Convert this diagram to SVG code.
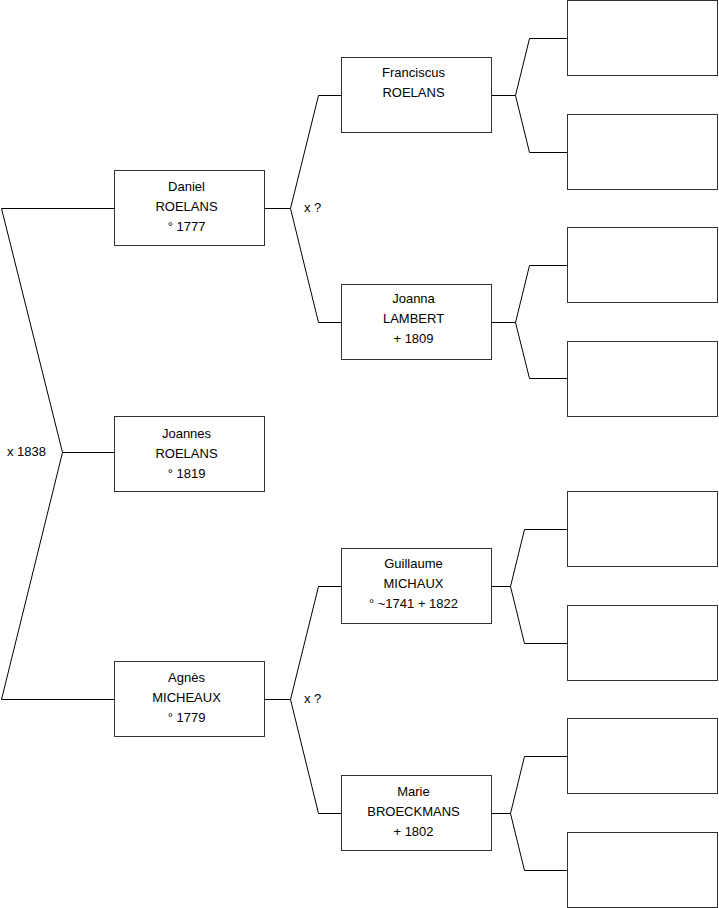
<svg xmlns="http://www.w3.org/2000/svg" width="719" height="908" viewBox="0 0 719 908">
<style>
.box{fill:#fff;stroke:#333;stroke-width:1}
.ln{fill:none;stroke:#000;stroke-width:1}
text{font-family:"Liberation Sans",Arial,sans-serif;font-size:13px;fill:#000}
.c{text-anchor:middle}
</style>
<rect width="719" height="908" fill="#fff"/>
<g id="connectors">
<polyline class="ln" points="114,208.5 1.5,208.5 62.5,452.5 1.5,699.5 114,699.5"/>
<line class="ln" x1="62.5" y1="452.5" x2="114" y2="452.5"/>
<polyline class="ln" points="341,95.5 318.5,95.5 290.5,208.5 318.5,322.5 341,322.5"/>
<line class="ln" x1="265" y1="208.5" x2="290.5" y2="208.5"/>
<polyline class="ln" points="341,586.5 318.5,586.5 290.5,699.5 318.5,813.5 341,813.5"/>
<line class="ln" x1="265" y1="699.5" x2="290.5" y2="699.5"/>
<polyline class="ln" points="567,38.5 529.5,38.5 515.5,95.5 529.5,152.5 567,152.5"/>
<line class="ln" x1="492" y1="95.5" x2="515.5" y2="95.5"/>
<polyline class="ln" points="567,265.5 529.5,265.5 515.5,322.5 529.5,378.5 567,378.5"/>
<line class="ln" x1="492" y1="322.5" x2="515.5" y2="322.5"/>
<polyline class="ln" points="567,529.5 524.5,529.5 510.5,586.5 524.5,643.5 567,643.5"/>
<line class="ln" x1="492" y1="586.5" x2="510.5" y2="586.5"/>
<polyline class="ln" points="567,756.5 524.5,756.5 510.5,813.5 524.5,870.5 567,870.5"/>
<line class="ln" x1="492" y1="813.5" x2="510.5" y2="813.5"/>
<text x="7" y="456">x 1838</text>
<text x="304" y="212">x ?</text>
<text x="304" y="703">x ?</text>
</g>
<g id="daniel"><rect class="box" x="114.5" y="170.5" width="150" height="75"/>
<text class="c" x="186.5" y="190.5">Daniel</text><text class="c" x="186.5" y="210.5">ROELANS</text><text class="c" x="186.5" y="230.5">° 1777</text></g>
<g id="joannes"><rect class="box" x="114.5" y="416.5" width="150" height="75"/>
<text class="c" x="186.5" y="438">Joannes</text><text class="c" x="186.5" y="458">ROELANS</text><text class="c" x="186.5" y="478">° 1819</text></g>
<g id="agnes"><rect class="box" x="114.5" y="661.5" width="150" height="75"/>
<text class="c" x="186.5" y="682">Agnès</text><text class="c" x="186.5" y="702">MICHEAUX</text><text class="c" x="186.5" y="722">° 1779</text></g>
<g id="franciscus"><rect class="box" x="341.5" y="57.5" width="150" height="75"/>
<text class="c" x="413.5" y="77">Franciscus</text><text class="c" x="413.5" y="97">ROELANS</text></g>
<g id="joanna"><rect class="box" x="341.5" y="284.5" width="150" height="75"/>
<text class="c" x="413.5" y="303">Joanna</text><text class="c" x="413.5" y="323">LAMBERT</text><text class="c" x="413.5" y="343">+ 1809</text></g>
<g id="guillaume"><rect class="box" x="341.5" y="548.5" width="150" height="75"/>
<text class="c" x="413.5" y="568">Guillaume</text><text class="c" x="413.5" y="588">MICHAUX</text><text class="c" x="413.5" y="608">° ~1741 + 1822</text></g>
<g id="marie"><rect class="box" x="341.5" y="775.5" width="150" height="75"/>
<text class="c" x="413.5" y="796">Marie</text><text class="c" x="413.5" y="816">BROECKMANS</text><text class="c" x="413.5" y="836">+ 1802</text></g>
<g id="gg1"><rect class="box" x="567.5" y="0.5" width="150" height="75"/></g>
<g id="gg2"><rect class="box" x="567.5" y="114.5" width="150" height="75"/></g>
<g id="gg3"><rect class="box" x="567.5" y="227.5" width="150" height="75"/></g>
<g id="gg4"><rect class="box" x="567.5" y="341.5" width="150" height="75"/></g>
<g id="gg5"><rect class="box" x="567.5" y="491.5" width="150" height="75"/></g>
<g id="gg6"><rect class="box" x="567.5" y="605.5" width="150" height="75"/></g>
<g id="gg7"><rect class="box" x="567.5" y="718.5" width="150" height="75"/></g>
<g id="gg8"><rect class="box" x="567.5" y="832.5" width="150" height="75"/></g>
</svg>
